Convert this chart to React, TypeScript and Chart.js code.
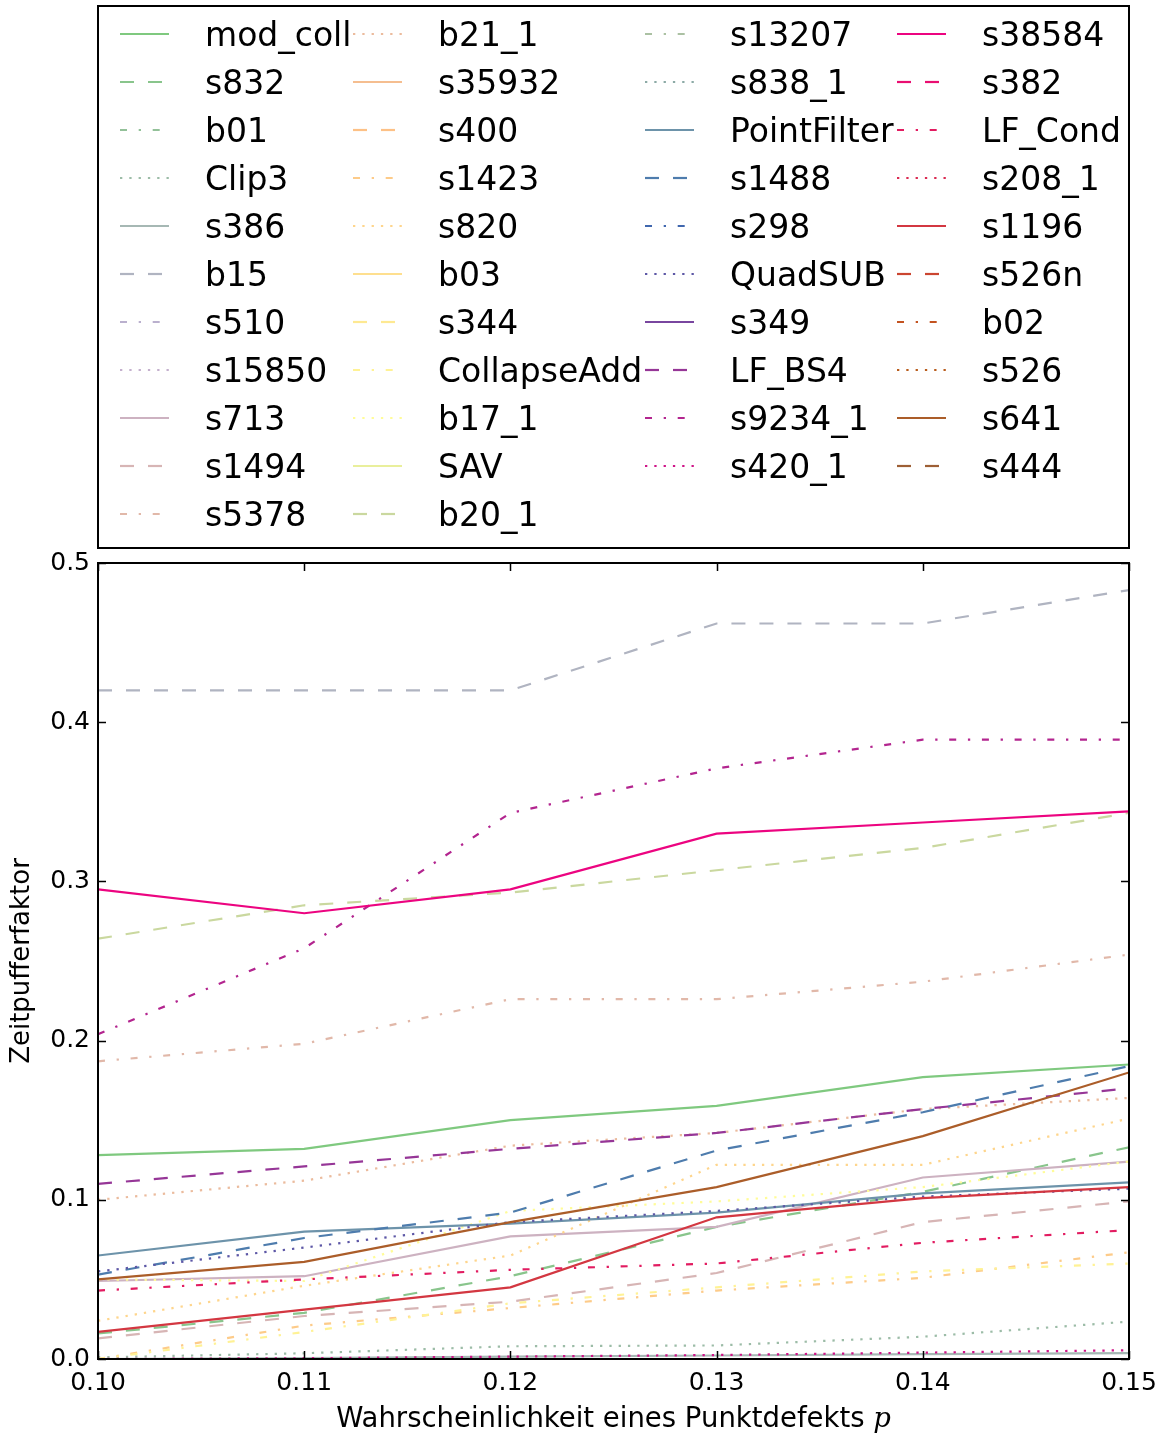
import React, { useEffect, useRef } from 'react';
import { Chart, registerables } from 'chart.js';

Chart.register(...registerables);

// ---------- data ----------
const pValues = [0.10, 0.11, 0.12, 0.13, 0.14, 0.15];
const xTickLabels = ['0.10', '0.11', '0.12', '0.13', '0.14', '0.15'];
const yTickValues = [0.0, 0.1, 0.2, 0.3, 0.4, 0.5];
const yTickLabels = ['0.0', '0.1', '0.2', '0.3', '0.4', '0.5'];

const mod_coll = [0.128, 0.132, 0.150, 0.159, 0.177, 0.185];
const s832 = [0.016, 0.029, 0.052, 0.083, 0.105, 0.133];
const b01: number[] = [];
const Clip3 = [0.001, 0.0036, 0.008, 0.0085, 0.014, 0.0235];
const s386 = [0.0, 0.0005, 0.0015, 0.0022, 0.003, 0.0037];
const b15 = [0.420, 0.420, 0.420, 0.462, 0.462, 0.483];
const s510: number[] = [];
const s15850: number[] = [];
const s713 = [0.049, 0.052, 0.077, 0.083, 0.114, 0.124];
const s1494 = [0.013, 0.027, 0.036, 0.054, 0.086, 0.099];
const s5378 = [0.187, 0.198, 0.226, 0.226, 0.237, 0.254];
const b21_1 = [0.100, 0.112, 0.134, 0.142, 0.157, 0.164];
const s35932: number[] = [];
const s400: number[] = [];
const s1423 = [0.0, 0.021, 0.032, 0.043, 0.051, 0.067];
const s820 = [0.024, 0.046, 0.065, 0.122, 0.122, 0.151];
const b03: number[] = [];
const s344: number[] = [];
const CollapseAdd = [0.0, 0.017, 0.035, 0.045, 0.055, 0.060];
const b17_1 = [0.050, 0.049, 0.093, 0.099, 0.108, 0.124];
const SAV: number[] = [];
const b20_1 = [0.264, 0.285, 0.293, 0.307, 0.321, 0.343];
const s13207: number[] = [];
const s838_1: number[] = [];
const PointFilter = [0.065, 0.080, 0.085, 0.092, 0.104, 0.111];
const s1488 = [0.053, 0.076, 0.092, 0.131, 0.155, 0.184];
const s298: number[] = [];
const QuadSUB = [0.055, 0.070, 0.086, 0.093, 0.102, 0.107];
const s349: number[] = [];
const LF_BS4 = [0.110, 0.121, 0.132, 0.142, 0.157, 0.170];
const s9234_1 = [0.204, 0.258, 0.343, 0.371, 0.389, 0.389];
const s420_1 = [0.0, 0.0005, 0.0015, 0.0025, 0.004, 0.0055];
const s38584 = [0.295, 0.280, 0.295, 0.330, 0.337, 0.344];
const s382: number[] = [];
const LF_Cond = [0.043, 0.050, 0.056, 0.060, 0.073, 0.081];
const s208_1: number[] = [];
const s1196 = [0.017, 0.031, 0.045, 0.089, 0.101, 0.108];
const s526n: number[] = [];
const b02: number[] = [];
const s526: number[] = [];
const s641 = [0.050, 0.061, 0.086, 0.108, 0.140, 0.180];
const s444: number[] = [];

const seriesNames = [
  'mod_coll', 's832', 'b01', 'Clip3', 's386', 'b15', 's510', 's15850', 's713', 's1494', 's5378',
  'b21_1', 's35932', 's400', 's1423', 's820', 'b03', 's344', 'CollapseAdd', 'b17_1', 'SAV', 'b20_1',
  's13207', 's838_1', 'PointFilter', 's1488', 's298', 'QuadSUB', 's349', 'LF_BS4', 's9234_1', 's420_1',
  's38584', 's382', 'LF_Cond', 's208_1', 's1196', 's526n', 'b02', 's526', 's641', 's444',
];
const seriesValues = [
  mod_coll, s832, b01, Clip3, s386, b15, s510, s15850, s713, s1494, s5378,
  b21_1, s35932, s400, s1423, s820, b03, s344, CollapseAdd, b17_1, SAV, b20_1,
  s13207, s838_1, PointFilter, s1488, s298, QuadSUB, s349, LF_BS4, s9234_1, s420_1,
  s38584, s382, LF_Cond, s208_1, s1196, s526n, b02, s526, s641, s444,
];

// ---------- styles ----------
const FONT = '"DejaVu Sans", "Liberation Sans", sans-serif';
const ACCENT = [
  [127, 201, 127], [190, 174, 212], [253, 192, 134], [255, 255, 153],
  [56, 108, 176], [240, 2, 127], [191, 91, 23], [102, 102, 102],
];
function accent(t: number): string {
  const s = Math.max(0, Math.min(1, t)) * 7;
  const k = Math.min(6, Math.floor(s));
  const f = s - k;
  const a = ACCENT[k];
  const b = ACCENT[k + 1];
  const c = [0, 1, 2].map((j) => Math.round(a[j] + (b[j] - a[j]) * f));
  return `rgb(${c[0]},${c[1]},${c[2]})`;
}
const COLOR_DIV = 45;
const DASHES = [[], [14, 14], [7, 11.7, 2.3, 11.7], [2.3, 7]];
const LINE_W = 2.2;

const PLOT = { left: 98, right: 1129, top: 563, bottom: 1359 };
const LEGEND_BOX = { left: 98, top: 6, right: 1129, bottom: 548 };
const LEGEND_COL_X = [120, 353, 645, 897];
const LEGEND_COL_START = [0, 11, 22, 32];

function legendPos(i: number) {
  let col = 0;
  for (let c = 0; c < LEGEND_COL_START.length; c++) if (i >= LEGEND_COL_START[c]) col = c;
  const row = i - LEGEND_COL_START[col];
  return { x: LEGEND_COL_X[col], y: 34 + row * 48 };
}

const framePlugin = {
  id: 'frameTicksLegend',
  afterDatasetsDraw(chart: any) {
    const ctx = chart.ctx as CanvasRenderingContext2D;
    const area = chart.chartArea;
    const xs = chart.scales.x;
    const ys = chart.scales.y;
    ctx.save();
    ctx.setLineDash([]);
    ctx.strokeStyle = '#000';
    // inward ticks
    ctx.lineWidth = 1.5;
    ctx.beginPath();
    pValues.forEach((v) => {
      const px = Math.round(xs.getPixelForValue(v)) + 0.5;
      ctx.moveTo(px, area.bottom);
      ctx.lineTo(px, area.bottom - 8);
      ctx.moveTo(px, area.top);
      ctx.lineTo(px, area.top + 8);
    });
    yTickValues.forEach((v) => {
      const py = Math.round(ys.getPixelForValue(v)) + 0.5;
      ctx.moveTo(area.left, py);
      ctx.lineTo(area.left + 8, py);
      ctx.moveTo(area.right, py);
      ctx.lineTo(area.right - 8, py);
    });
    ctx.stroke();
    // frame
    ctx.lineWidth = 2;
    ctx.strokeRect(area.left, area.top, area.right - area.left, area.bottom - area.top);

    // x axis title with italic p
    const main = 'Wahrscheinlichkeit eines Punktdefekts ';
    ctx.fillStyle = '#000';
    ctx.textBaseline = 'alphabetic';
    ctx.textAlign = 'left';
    ctx.font = `27.5px ${FONT}`;
    const w1 = ctx.measureText(main).width;
    ctx.font = `italic 27.5px "DejaVu Serif", serif`;
    const w2 = ctx.measureText('p').width;
    const cx = (area.left + area.right) / 2;
    const x0 = cx - (w1 + w2) / 2;
    ctx.font = `27.5px ${FONT}`;
    ctx.fillText(main, x0, 1427);
    ctx.font = `italic 27.5px "DejaVu Serif", serif`;
    ctx.fillText('p', x0 + w1, 1427);

    // legend
    ctx.lineWidth = 2;
    ctx.strokeRect(LEGEND_BOX.left, LEGEND_BOX.top, LEGEND_BOX.right - LEGEND_BOX.left, LEGEND_BOX.bottom - LEGEND_BOX.top);
    chart.data.datasets.forEach((ds: any, i: number) => {
      const { x, y } = legendPos(i);
      ctx.setLineDash(ds.borderDash || []);
      ctx.lineDashOffset = 0;
      ctx.strokeStyle = ds.borderColor;
      ctx.lineWidth = ds.borderWidth;
      ctx.lineCap = 'butt';
      ctx.beginPath();
      ctx.moveTo(x, y);
      ctx.lineTo(x + 49, y);
      ctx.stroke();
      ctx.setLineDash([]);
      ctx.fillStyle = '#000';
      ctx.font = `33px ${FONT}`;
      ctx.textBaseline = 'alphabetic';
      ctx.textAlign = 'left';
      ctx.fillText(ds.label, x + 85, y + 12);
    });
    ctx.restore();
  },
};

export default function App() {
  const canvasRef = useRef<HTMLCanvasElement | null>(null);

  useEffect(() => {
    const canvas = canvasRef.current;
    if (!canvas) return;
    Chart.defaults.font.family = FONT;
    const datasets = seriesNames.map((name, i) => ({
      label: name,
      data: seriesValues[i].map((v, j) => ({ x: pValues[j], y: v })),
      borderColor: accent(i / COLOR_DIV),
      backgroundColor: accent(i / COLOR_DIV),
      borderWidth: LINE_W,
      borderDash: DASHES[i % 4],
      borderCapStyle: 'butt' as const,
      pointRadius: 0,
      pointHoverRadius: 0,
      fill: false,
      tension: 0,
      clip: 0,
      order: seriesNames.length - i,
    }));

    const chart = new Chart(canvas, {
      type: 'line',
      data: { datasets },
      options: {
        responsive: false,
        animation: false,
        devicePixelRatio: 1,
        layout: { padding: { top: PLOT.top, right: 1166 - PLOT.right, left: 0, bottom: 0 } },
        plugins: {
          legend: { display: false },
          tooltip: { enabled: false },
          title: { display: false },
        },
        scales: {
          x: {
            type: 'linear',
            position: 'bottom',
            min: pValues[0],
            max: pValues[pValues.length - 1],
            grid: { display: false, drawTicks: false },
            border: { display: false },
            ticks: {
              color: '#000',
              font: { size: 25, family: FONT },
              padding: 9,
              maxRotation: 0,
              autoSkip: false,
              callback: (v: any) => {
                const idx = pValues.findIndex((p) => Math.abs(p - v) < 1e-9);
                return idx >= 0 ? xTickLabels[idx] : '';
              },
            },
            afterBuildTicks: (s: any) => {
              s.ticks = pValues.map((v) => ({ value: v }));
            },
            afterFit: (s: any) => {
              s.height = 1437 - PLOT.bottom;
            },
          },
          y: {
            type: 'linear',
            min: 0,
            max: 0.5,
            grid: { display: false, drawTicks: false },
            border: { display: false },
            title: {
              display: true,
              text: 'Zeitpufferfaktor',
              color: '#000',
              font: { size: 26, family: FONT },
              padding: { top: 7, bottom: 0 },
            },
            ticks: {
              color: '#000',
              font: { size: 25, family: FONT },
              padding: 8,
              autoSkip: false,
              callback: (v: any) => {
                const idx = yTickValues.findIndex((p) => Math.abs(p - v) < 1e-9);
                return idx >= 0 ? yTickLabels[idx] : '';
              },
            },
            afterBuildTicks: (s: any) => {
              s.ticks = yTickValues.map((v) => ({ value: v }));
            },
            afterFit: (s: any) => {
              s.width = PLOT.left;
            },
          },
        },
      },
      plugins: [framePlugin],
    });
    return () => chart.destroy();
  }, []);

  return (
    <div style={{ position: 'absolute', left: 0, top: 0, width: 1166, height: 1437, background: '#fff' }}>
      <canvas ref={canvasRef} width={1166} height={1437} style={{ display: 'block' }} />
    </div>
  );
}
